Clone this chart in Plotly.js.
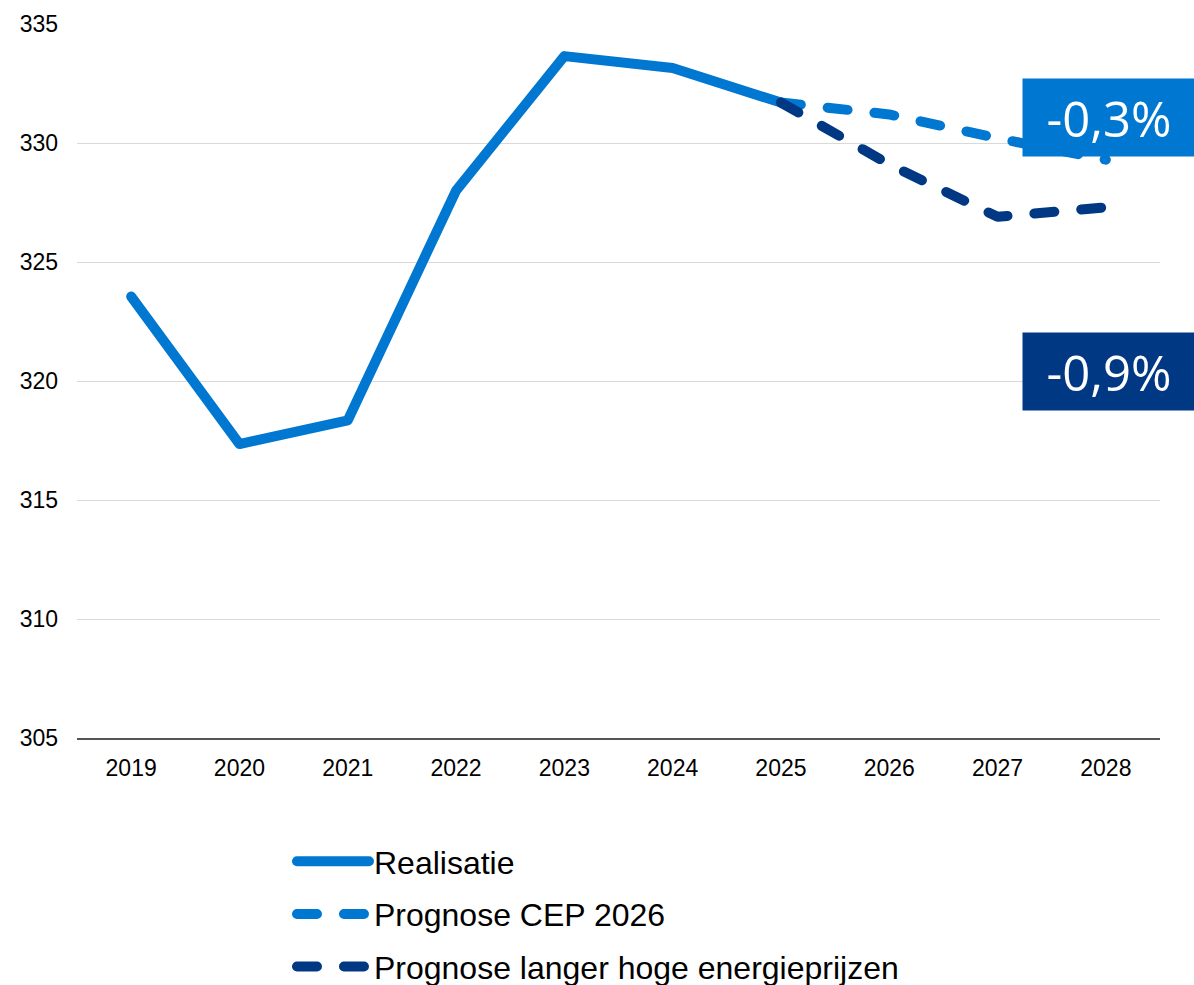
<!DOCTYPE html>
<html>
<head>
<meta charset="utf-8">
<script src="https://cdn.plot.ly/plotly-3.0.1.min.js"></script>
<style>
html,body{margin:0;padding:0;background:#fff;}
#chart{width:1194px;height:985px;}
.js-line{stroke-linecap:round;stroke-linejoin:round;}
.legendlines path{stroke-linecap:round;}
</style>
</head>
<body>
<div id="chart"></div>
<script>
const years = ["2019","2020","2021","2022","2023","2024","2025","2026","2027","2028"];
const realisatie = [323.55, 317.35, 318.35, 328.0, 333.65, 333.15, 331.7, null, null, null];
const prognoseCEP = [null, null, null, null, null, null, 331.7, 331.2, 330.2, 329.3];
const prognoseHoog = [null, null, null, null, null, null, 331.7, 329.1, 326.9, 327.3];
const seriesNames = ["Realisatie", "Prognose CEP 2026", "Prognose langer hoge energieprijzen"];
const labelCEP = "-0,3%";
const labelHoog = "-0,9%";

const lightBlue = "#0077D1";
const darkBlue = "#003884";

const traces = [
  {x: years, y: realisatie, name: seriesNames[0], legendgroup: "a", type: "scatter", mode: "lines",
   line: {color: lightBlue, width: 10}},
  {x: years, y: prognoseCEP, name: seriesNames[1], legendgroup: "b", type: "scatter", mode: "lines",
   line: {color: lightBlue, width: 10, dash: "20px,27px"}},
  {x: years, y: prognoseHoog, name: seriesNames[2], legendgroup: "c", type: "scatter", mode: "lines",
   line: {color: darkBlue, width: 10, dash: "20px,27px"}}
];

const layout = {
  width: 1194, height: 985,
  margin: {l: 77, r: 34, t: 24, b: 247, autoexpand: false},
  paper_bgcolor: "#fff", plot_bgcolor: "#fff",
  font: {family: "Liberation Sans, Arial, sans-serif", color: "#000", size: 23},
  showlegend: true,
  legend: {
    x: 0.1985, xanchor: "left", y: -0.1345, yanchor: "top",
    font: {size: 32, color: "#000"},
    itemwidth: 72, tracegroupgap: 8, traceorder: "grouped",
    bgcolor: "rgba(0,0,0,0)"
  },
  xaxis: {
    type: "category", range: [-0.5, 9.5],
    showgrid: false, zeroline: false,
    showline: true, linecolor: "#555", linewidth: 1.5,
    ticks: "", ticklabelstandoff: 9,
    tickfont: {size: 23, color: "#000"}
  },
  yaxis: {
    range: [305, 335], dtick: 5, tick0: 305,
    showgrid: true, gridcolor: "#D9D9D9", gridwidth: 1,
    zeroline: false, showline: false,
    ticks: "", ticklabelstandoff: 18,
    tickfont: {size: 23, color: "#000"}
  },
  annotations: [
    {xref: "paper", yref: "paper", x: (1022-77)/1083, xanchor: "left",
     y: (738-118)/714, yanchor: "middle", text: labelCEP, showarrow: false,
     bgcolor: lightBlue, width: 172, height: 77, borderpad: 0, align: "center",
     font: {family: "Open Sans, Noto Sans, sans-serif", size: 49, color: "#fff"}},
    {xref: "paper", yref: "paper", x: (1022-77)/1083, xanchor: "left",
     y: (738-371)/714, yanchor: "middle", text: labelHoog, showarrow: false,
     bgcolor: darkBlue, width: 172, height: 77, borderpad: 0, align: "center",
     font: {family: "Open Sans, Noto Sans, sans-serif", size: 49, color: "#fff"}}
  ]
};

Plotly.newPlot("chart", traces, layout, {displayModeBar: false, staticPlot: true});
</script>
</body>
</html>
